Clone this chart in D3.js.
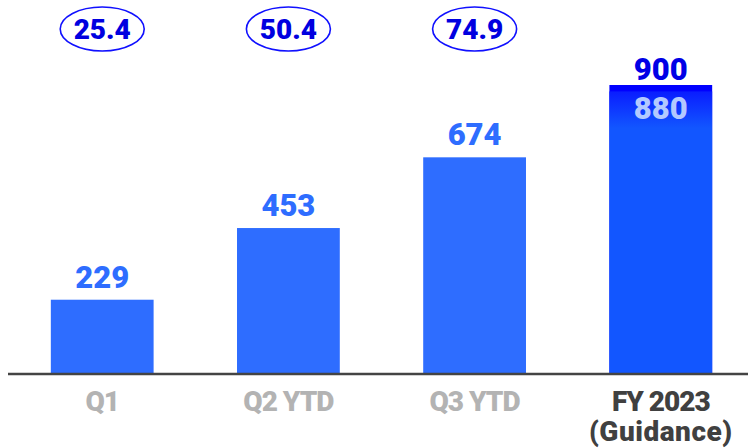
<!DOCTYPE html>
<html><head><meta charset="utf-8">
<script src="https://cdn.jsdelivr.net/npm/d3@7"></script>
<style>html,body{margin:0;padding:0;background:#fff;}svg{display:block;}</style>
</head><body>
<script>
const categories = ["Q1", "Q2 YTD", "Q3 YTD", "FY 2023"];
const subLabels = ["", "", "", "(Guidance)"];
const values = [229, 453, 674, 880];
const guidanceHigh = 900;
const ovalValues = ["25.4", "50.4", "74.9", null];

const W = 748, H = 448;
const svg = d3.select("body").append("svg").attr("width", W).attr("height", H);

const x = d3.scaleBand().domain(categories).range([8, 755]).paddingInner(0.448).paddingOuter(0.23);
const y = d3.scaleLinear().domain([0, 900]).range([373, 85]);

const defs = svg.append("defs");
const grad = defs.append("linearGradient").attr("id", "fyGrad")
  .attr("gradientUnits", "userSpaceOnUse")
  .attr("x1", 0).attr("x2", 0).attr("y1", y(values[3])).attr("y2", y(0));
grad.append("stop").attr("offset", 0).attr("stop-color", "#0a1dff");
grad.append("stop").attr("offset", 0.13).attr("stop-color", "#1256ff");
grad.append("stop").attr("offset", 1).attr("stop-color", "#1256ff");

// high-end guidance bar
svg.append("rect")
  .attr("x", x("FY 2023")).attr("width", x.bandwidth())
  .attr("y", y(guidanceHigh)).attr("height", y(0) - y(guidanceHigh))
  .attr("fill", "#0000ff");

svg.selectAll("rect.bar").data(values).join("rect").attr("class", "bar")
  .attr("x", (d, i) => x(categories[i])).attr("width", x.bandwidth())
  .attr("y", d => y(d)).attr("height", d => y(0) - y(d))
  .attr("fill", (d, i) => i === 3 ? "url(#fyGrad)" : "#2e6dff");

// axis line
svg.append("line").attr("x1", 8).attr("x2", W).attr("y1", 374).attr("y2", 374)
  .attr("stroke", "#444").attr("stroke-width", 2.5);

// value labels
svg.selectAll("text.val").data(values).join("text").attr("class", "val")
  .attr("x", (d, i) => x(categories[i]) + x.bandwidth() / 2)
  .attr("y", (d, i) => i === 3 ? y(d) + 28 : y(d) - 12)
  .attr("text-anchor", "middle")
  .attr("font-family", "Roboto").attr("font-weight", 900).attr("font-size", 31)
  .attr("fill", (d, i) => i === 3 ? "#b3c9ff" : "#2e6dff")
  .text(d => d);

svg.append("text")
  .attr("x", x("FY 2023") + x.bandwidth() / 2).attr("y", y(guidanceHigh) - 5)
  .attr("text-anchor", "middle")
  .attr("font-family", "Roboto").attr("font-weight", 900).attr("font-size", 31)
  .attr("fill", "#0000e6").text(guidanceHigh);

// ovals
const ov = svg.selectAll("g.oval").data(ovalValues.map((v, i) => ({v, c: categories[i]})).filter(d => d.v))
  .join("g").attr("class", "oval")
  .attr("transform", d => `translate(${x(d.c) + x.bandwidth() / 2},29)`);
ov.append("ellipse").attr("rx", 42).attr("ry", 22).attr("fill", "none")
  .attr("stroke", "#1010ff").attr("stroke-width", 1.6);
ov.append("text").attr("text-anchor", "middle").attr("y", 10)
  .attr("font-family", "Roboto").attr("font-weight", 900).attr("font-size", 28)
  .attr("fill", "#0000e0").text(d => d.v);

// category labels
svg.selectAll("text.cat").data(categories).join("text").attr("class", "cat")
  .attr("x", d => x(d) + x.bandwidth() / 2).attr("y", 411)
  .attr("text-anchor", "middle")
  .attr("font-family", "Roboto").attr("font-weight", 900).attr("font-size", 28)
  .attr("letter-spacing", -1)
  .attr("fill", (d, i) => i === 3 ? "#404040" : "#b3b3b3")
  .text(d => d);

svg.selectAll("text.sub").data(subLabels).join("text").attr("class", "sub")
  .attr("x", (d, i) => x(categories[i]) + x.bandwidth() / 2).attr("y", 441)
  .attr("text-anchor", "middle")
  .attr("font-family", "Roboto").attr("font-weight", 900).attr("font-size", 28)
  .attr("letter-spacing", 0.5)
  .attr("fill", "#404040")
  .text(d => d);
</script>
</body></html>
